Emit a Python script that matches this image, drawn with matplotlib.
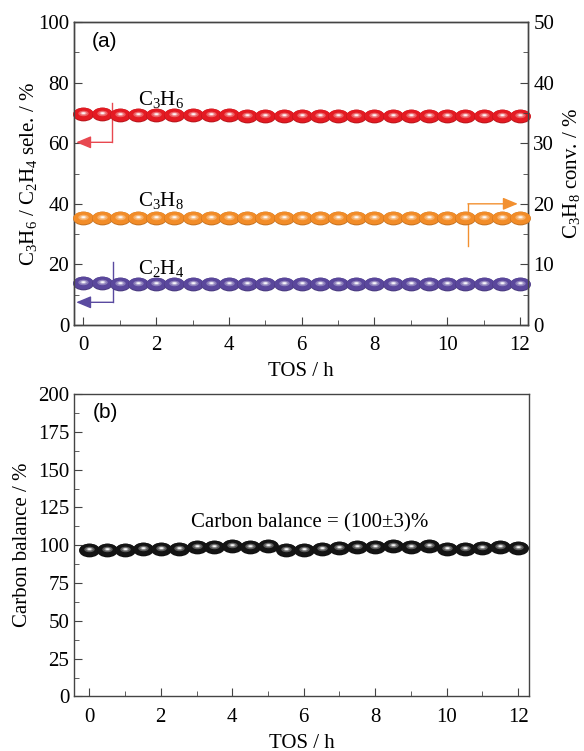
import numpy as np
import matplotlib
matplotlib.use('Agg')
import matplotlib.pyplot as plt
from matplotlib.markers import MarkerStyle
from matplotlib.path import Path
from matplotlib.transforms import Affine2D
from matplotlib.ticker import MultipleLocator
import matplotlib.colors as mcolors

plt.rcParams['font.family'] = ['Liberation Serif', 'DejaVu Serif']
plt.rcParams['mathtext.fontset'] = 'custom'
plt.rcParams['mathtext.rm'] = 'Liberation Serif'
plt.rcParams['mathtext.it'] = 'Liberation Serif:italic'
plt.rcParams['font.size'] = 15

# time on stream, h
tos = np.arange(0, 12.01, 0.5)

c3h6_sel = [69.8, 69.5, 69.4, 69.4, 69.3, 69.3, 69.3, 69.2, 69.2, 69.1, 69.1, 69.1, 69.0,
            69.0, 69.0, 69.0, 69.0, 69.0, 68.9, 68.9, 68.9, 68.9, 68.9, 68.9, 68.9]
c2h4_sel = [13.8, 13.8, 13.7, 13.7, 13.7, 13.7, 13.7, 13.7, 13.6, 13.6, 13.6, 13.6, 13.6,
            13.6, 13.6, 13.6, 13.6, 13.6, 13.6, 13.6, 13.6, 13.6, 13.6, 13.6, 13.6]
c3h8_conv = [17.7, 17.7, 17.7, 17.7, 17.7, 17.7, 17.7, 17.7, 17.7, 17.7, 17.7, 17.7, 17.7,
             17.7, 17.7, 17.7, 17.7, 17.7, 17.7, 17.7, 17.7, 17.7, 17.7, 17.7, 17.7]
carbon_bal = [97.0, 97.0, 97.0, 97.5, 97.5, 97.5, 98.5, 98.5, 99.5, 98.5, 99.5, 97.0, 97.0,
              97.5, 98.0, 98.5, 98.5, 99.5, 98.5, 99.5, 97.5, 97.5, 98.0, 98.5, 98.0]

spine_col = '#444444'
circ = Path.unit_circle()
AR = 0.66


def mk(sx, sy, dx=0.0, dy=0.0):
    return MarkerStyle(circ, transform=Affine2D().scale(sx, sy * AR).translate(dx, dy))


def shade(c, f):
    r, g, b = mcolors.to_rgb(c)
    if f < 0:
        return (r * (1 + f), g * (1 + f), b * (1 + f))
    return (r + (1 - r) * f, g + (1 - g) * f, b + (1 - b) * f)


layers = [(mk(1, 1), -0.2), (mk(0.97, 0.92, 0, 0.02), 0.0),
          (mk(0.5, 0.4, 0, 0.05), 0.3), (mk(0.3, 0.22, 0, 0.06), 0.65),
          (mk(0.16, 0.11, 0, 0.065), 1.0)]


def spheres(ax, xs, ys, color, ms=15):
    for i, (x, y) in enumerate(zip(xs, ys)):
        for j, (m, f) in enumerate(layers):
            ax.plot([x], [y], linestyle='none', marker=m, ms=ms,
                    mfc=shade(color, f), mec='none', zorder=3 + i * 0.01 + j * 0.001,
                    clip_on=False)


def style(ax):
    for s in ax.spines.values():
        s.set_color(spine_col)
        s.set_linewidth(1.0)
    ax.tick_params(direction='in', which='both', color=spine_col, labelsize=15)
    ax.tick_params(which='major', length=6)
    ax.tick_params(which='minor', length=3.5)
    ax.tick_params(axis='x', which='both', pad=8)


fig = plt.figure(figsize=(5.84, 7.51), dpi=100)
ax1 = fig.add_axes([0.1267, 0.5672, 0.7780, 0.4035])
ax2 = ax1.twinx()
axb = fig.add_axes([0.1272, 0.0726, 0.7791, 0.4028])

red, orange, purple = '#e41a22', '#f28c28', '#5a479c'

# panel (a)
ax1.set_xlim(-0.26, 12.23)
ax1.set_ylim(0, 100)
ax2.set_ylim(0, 50)
spheres(ax1, tos, c3h6_sel, red)
spheres(ax1, tos, c2h4_sel, purple)
spheres(ax2, tos, c3h8_conv, orange)

ax1.xaxis.set_major_locator(MultipleLocator(2))
ax1.xaxis.set_minor_locator(MultipleLocator(1))
ax1.yaxis.set_major_locator(MultipleLocator(20))
ax1.yaxis.set_minor_locator(MultipleLocator(10))
ax2.yaxis.set_major_locator(MultipleLocator(10))
ax2.yaxis.set_minor_locator(MultipleLocator(5))
style(ax1)
style(ax2)
ax1.tick_params(right=False, top=False)
ax1.tick_params(axis='y', which='both', right=False)

ax1.set_xlabel('TOS / h', fontsize=15, labelpad=5)
ax1.set_ylabel(r'C$_3$H$_6$ / C$_2$H$_4$ sele. / %', fontsize=15, labelpad=-1)
ax2.set_ylabel(r'C$_3$H$_8$ conv. / %', fontsize=15, labelpad=5)

ax1.text(0.04, 0.935, '(a)', transform=ax1.transAxes, fontsize=15,
         family='Liberation Sans', va='center')
ax1.text(1.5, 74.5, r'C$_3$H$_6$', fontsize=15, va='center')
ax1.text(1.5, 41.0, r'C$_3$H$_8$', fontsize=15, va='center')
ax1.text(1.5, 18.5, r'C$_2$H$_4$', fontsize=15, va='center')

# guide arrows
ax1.plot([0.78, 0.78], [73.3, 60.3], color='#e84850', lw=1, zorder=2)
ax1.annotate('', xy=(-0.2, 60.3), xytext=(0.78, 60.3),
             arrowprops=dict(arrowstyle='-|>,head_length=0.6,head_width=0.25',
                             color='#e84850', lw=1, shrinkA=0, shrinkB=0))
ax1.plot([0.81, 0.81], [20.8, 7.5], color='#5a4aa0', lw=1, zorder=2)
ax1.annotate('', xy=(-0.2, 7.5), xytext=(0.81, 7.5),
             arrowprops=dict(arrowstyle='-|>,head_length=0.6,head_width=0.25',
                             color='#5a4aa0', lw=1, shrinkA=0, shrinkB=0))
ax2.plot([10.57, 10.57], [13.0, 20.0], color='#f29030', lw=1, zorder=2)
ax2.annotate('', xy=(11.94, 20.0), xytext=(10.57, 20.0),
             arrowprops=dict(arrowstyle='-|>,head_length=0.6,head_width=0.25',
                             color='#f29030', lw=1, shrinkA=0, shrinkB=0))

# panel (b)
axb.set_xlim(-0.42, 12.31)
axb.set_ylim(0, 200)
spheres(axb, tos, carbon_bal, '#141414')
axb.xaxis.set_major_locator(MultipleLocator(2))
axb.xaxis.set_minor_locator(MultipleLocator(1))
axb.yaxis.set_major_locator(MultipleLocator(25))
axb.yaxis.set_minor_locator(MultipleLocator(12.5))
style(axb)
axb.tick_params(right=False, top=False)
axb.set_xlabel('TOS / h', fontsize=15, labelpad=5)
axb.set_ylabel('Carbon balance / %', fontsize=15, labelpad=4)
axb.text(0.04, 0.94, '(b)', transform=axb.transAxes, fontsize=15,
         family='Liberation Sans', va='center')
axb.text(6.17, 115, 'Carbon balance = (100±3)%', fontsize=15, ha='center', va='center')

fig.savefig('out.png', dpi=100)
